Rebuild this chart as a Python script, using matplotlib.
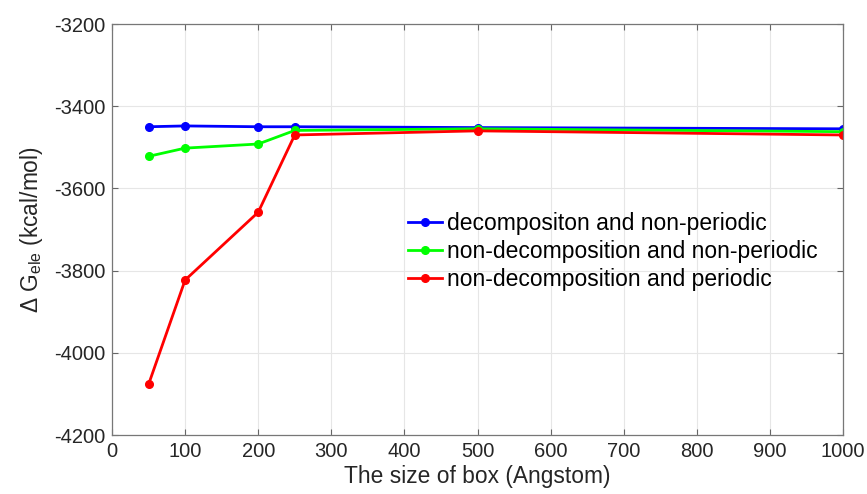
import numpy as np
import matplotlib.pyplot as plt

plt.rcParams['font.family'] = ['Liberation Sans', 'DejaVu Sans']
plt.rcParams['mathtext.fontset'] = 'custom'
plt.rcParams['mathtext.rm'] = 'Liberation Sans'
plt.rcParams['mathtext.it'] = 'Liberation Sans'
plt.rcParams['axes.unicode_minus'] = False

box = [50, 100, 200, 250, 500, 1000]
decomp_nonper = [-3450, -3448, -3450, -3450, -3452, -3455]
nondecomp_nonper = [-3522, -3502, -3492, -3459, -3455, -3462]
nondecomp_per = [-4077, -3823, -3658, -3470, -3460, -3470]

fig = plt.figure(figsize=(8.67, 4.94), dpi=100)
ax = fig.add_axes([112/867, 1 - 435/494, (843-112)/867, (435-24)/494])

ax.plot(box, decomp_nonper, color='#0000ff', marker='o', markersize=5.5, lw=2,
        label='decompositon and non-periodic')
ax.plot(box, nondecomp_nonper, color='#00ff00', marker='o', markersize=5.5, lw=2,
        label='non-decomposition and non-periodic')
ax.plot(box, nondecomp_per, color='#ff0000', marker='o', markersize=5.5, lw=2,
        label='non-decomposition and periodic')

ax.set_xlim(0, 1000)
ax.set_ylim(-4200, -3200)
ax.set_xticks(np.arange(0, 1001, 100))
ax.set_yticks(np.arange(-4200, -3199, 200))
ax.grid(True, color='#e6e6e6', lw=0.8)
ax.set_axisbelow(True)
ax.tick_params(direction='in', labelsize=14.5, labelcolor='#262626',
               color='#666666', length=4, pad=5, top=True, right=True)
for s in ax.spines.values():
    s.set_color('#777777')
    s.set_linewidth(0.9)

ax.set_xlabel('The size of box (Angstom)', fontsize=16.4, labelpad=3,
              color='#262626')
ax.set_ylabel(r'$\Delta$ G$_{\rm ele}$ (kcal/mol)', fontsize=16.4,
              labelpad=6, color='#262626')

ax.legend(loc='upper left', bbox_to_anchor=(408/867, 1 - 212/494),
          bbox_transform=fig.transFigure, frameon=False, borderpad=0,
          borderaxespad=0, fontsize=16.5, handlelength=1.5,
          handletextpad=0.2, labelspacing=0.21)

fig.savefig('out.png', dpi=100)
